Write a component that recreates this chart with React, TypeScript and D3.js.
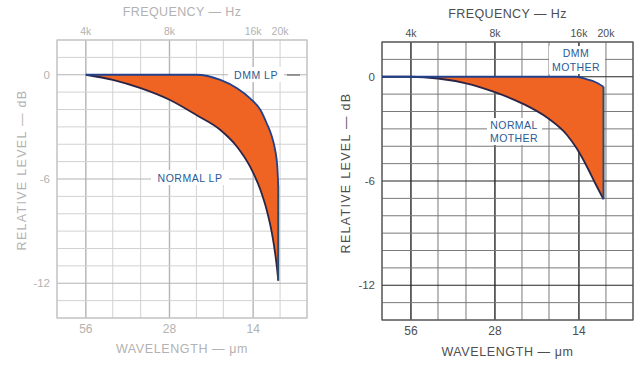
import React from "react";
import * as d3 from "d3";

// ---------- data ----------
const gridFreqHz = [3150, 4000, 5000, 6300, 8000, 10000, 12500, 16000, 20000, 25000];
const majorFreqHz = [4000, 8000, 16000];
const gridDb = [2, 1, 0, -1, -2, -3, -4, -5, -6, -7, -8, -9, -10, -11, -12, -13, -14];
const majorDb = [0, -6, -12];

const topTickHz = [4000, 8000, 16000, 20000];
const topTickLabels = ["4k", "8k", "16k", "20k"];
const bottomTickHz = [4000, 8000, 16000];
const bottomTickLabels = ["56", "28", "14"];
const yTickDb = [0, -6, -12];
const yTickLabels = ["0", "-6", "-12"];

// Left panel: LP
const lpFreqHz = [4000, 5000, 6300, 8000, 10000, 12200, 14000, 15600, 17000, 17900, 18700, 19200, 19550, 19700];
const normalLpDb = [0, -0.29, -0.77, -1.44, -2.32, -3.18, -4.14, -5.29, -6.63, -7.78, -9.13, -10.28, -11.3, -11.85];
const dmmLpDb = [0, 0, 0, 0, 0, -0.3, -0.78, -1.36, -2.03, -2.79, -3.57, -4.33, -5.29, -6.4];

// Right panel: mother
const motherFreqHz = [3150, 4000, 5000, 6300, 7900, 10000, 12400, 14500, 15700, 17100, 18300, 19600];
const normalMotherDb = [0, 0, -0.1, -0.38, -0.86, -1.53, -2.39, -3.35, -4.12, -5.18, -6.13, -7.05];
const dmmMotherDb = [0, 0, 0, 0, 0, 0, 0, 0, 0, -0.15, -0.3, -0.57];

const FONT = "'Liberation Sans', Arial, Helvetica, sans-serif";

type PanelProps = {
  x0: number; x1: number; y0: number; y1: number;
  freq: number[]; normal: number[]; dmm: number[];
  textColor: string; minorGrid: string; majorGrid: string; frame: string;
  yTitleX: number; yTitleY: number; freqTitleY: number; topTickY: number; bottomTickY: number; waveTitleY: number;
  labels: React.ReactNode;
};

function Panel(p: PanelProps) {
  const x = d3.scaleLog().domain([3150, 25000]).range([p.x0, p.x1]);
  const y = d3.scaleLinear().domain([2, -14]).range([p.y0, p.y1]);
  const idx = p.freq.map((_, i) => i);
  const curve = d3.curveMonotoneX;
  const area = d3
    .area<number>()
    .x((i) => x(p.freq[i]))
    .y0((i) => y(p.normal[i]))
    .y1((i) => y(p.dmm[i]))
    .curve(curve);
  const lineN = d3.line<number>().x((i) => x(p.freq[i])).y((i) => y(p.normal[i])).curve(curve);
  const lineD = d3.line<number>().x((i) => x(p.freq[i])).y((i) => y(p.dmm[i])).curve(curve);
  const last = p.freq.length - 1;
  const cx = (p.x0 + p.x1) / 2;
  return (
    <g>
      {gridFreqHz.map((f) => {
        const major = majorFreqHz.includes(f);
        return (
          <line key={"v" + f} x1={x(f)} x2={x(f)} y1={p.y0} y2={p.y1}
            stroke={major ? p.majorGrid : p.minorGrid} strokeWidth={major ? 1.4 : 1} />
        );
      })}
      {gridDb.map((d) => {
        const major = majorDb.includes(d);
        return (
          <line key={"h" + d} x1={p.x0} x2={p.x1} y1={y(d)} y2={y(d)}
            stroke={major ? p.majorGrid : p.minorGrid} strokeWidth={major ? 1.2 : 1} />
        );
      })}
      <rect x={p.x0} y={p.y0} width={p.x1 - p.x0} height={p.y1 - p.y0} fill="none" stroke={p.frame} strokeWidth={1.2} />
      <path d={area(idx) || ""} fill="#ef6422" />
      <path d={lineN(idx) || ""} fill="none" stroke="#2b2445" strokeWidth={1.8} />
      <path d={lineD(idx) || ""} fill="none" stroke="#23408a" strokeWidth={1.8} />
      <line x1={x(p.freq[last])} x2={x(p.freq[last])} y1={y(p.dmm[last])} y2={y(p.normal[last])}
        stroke="#2a4c6e" strokeWidth={2} />
      {p.labels}
      <text x={cx} y={p.freqTitleY} textAnchor="middle" fontSize={12.5} fill={p.textColor} fontFamily={FONT} letterSpacing={0.4}>
        FREQUENCY — Hz
      </text>
      {topTickHz.map((f, i) => (
        <text key={"t" + f} x={x(f)} y={p.topTickY} textAnchor="middle" fontSize={10.5} fill={p.textColor} fontFamily={FONT}>
          {topTickLabels[i]}
        </text>
      ))}
      {bottomTickHz.map((f, i) => (
        <text key={"b" + f} x={x(f)} y={p.bottomTickY} textAnchor="middle" fontSize={12} fill={p.textColor} fontFamily={FONT}>
          {bottomTickLabels[i]}
        </text>
      ))}
      <text x={cx} y={p.waveTitleY} textAnchor="middle" fontSize={12.5} fill={p.textColor} fontFamily={FONT} letterSpacing={0.6}>
        WAVELENGTH — μm
      </text>
      {yTickDb.map((d, i) => (
        <text key={"y" + d} x={p.x0 - 7} y={y(d) + 4} textAnchor="end" fontSize={11.5} fill={p.textColor} fontFamily={FONT}>
          {yTickLabels[i]}
        </text>
      ))}
      <text transform={`translate(${p.yTitleX},${p.yTitleY}) rotate(-90)`} textAnchor="middle" fontSize={12.5}
        fill={p.textColor} fontFamily={FONT} letterSpacing={1.3}>
        RELATIVE LEVEL — dB
      </text>
    </g>
  );
}

const LABEL_BLUE = "#2a5b96";

export default function App() {
  return (
    <svg width={643} height={365} style={{ position: "absolute", left: 0, top: 0, background: "#fff" }}>
      <rect width={643} height={365} fill="#fff" />
      <Panel
        x0={57} x1={307} y0={40} y1={318}
        freq={lpFreqHz} normal={normalLpDb} dmm={dmmLpDb}
        textColor="#b2b2b2" minorGrid="#d2d2d2" majorGrid="#b4b4b4" frame="#c2c2c2"
        yTitleX={26} yTitleY={170} freqTitleY={16} topTickY={35} bottomTickY={333} waveTitleY={353}
        labels={
          <g fontFamily={FONT} fontSize={10.5} fill={LABEL_BLUE}>
            <rect x={228} y={67} width={56} height={15} fill="#fff" />
            <text x={256} y={79} textAnchor="middle" letterSpacing={0.5}>DMM LP</text>
            <line x1={287} x2={300} y1={75} y2={75} stroke="#666" strokeWidth={1.2} />
            <rect x={151} y={170} width={78} height={15} fill="#fff" />
            <text x={190} y={182} textAnchor="middle" letterSpacing={0.5}>NORMAL LP</text>
          </g>
        }
      />
      <Panel
        x0={382} x1={633} y0={42} y1={320}
        freq={motherFreqHz} normal={normalMotherDb} dmm={dmmMotherDb}
        textColor="#4e4e4e" minorGrid="#7a7a7a" majorGrid="#262626" frame="#555"
        yTitleX={350} yTitleY={173} freqTitleY={18} topTickY={37} bottomTickY={335} waveTitleY={356}
        labels={
          <g fontFamily={FONT} fontSize={10.5} fill={LABEL_BLUE}>
            <rect x={549} y={46} width={56} height={28} fill="#fff" />
            <text x={576} y={57} textAnchor="middle" letterSpacing={0.4}>DMM</text>
            <text x={576} y={71} textAnchor="middle" letterSpacing={0.4}>MOTHER</text>
            <rect x={487} y={118} width={55} height={27} fill="#fff" />
            <text x={514} y={129} textAnchor="middle" letterSpacing={0.4}>NORMAL</text>
            <text x={514} y={142} textAnchor="middle" letterSpacing={0.4}>MOTHER</text>
          </g>
        }
      />
    </svg>
  );
}
